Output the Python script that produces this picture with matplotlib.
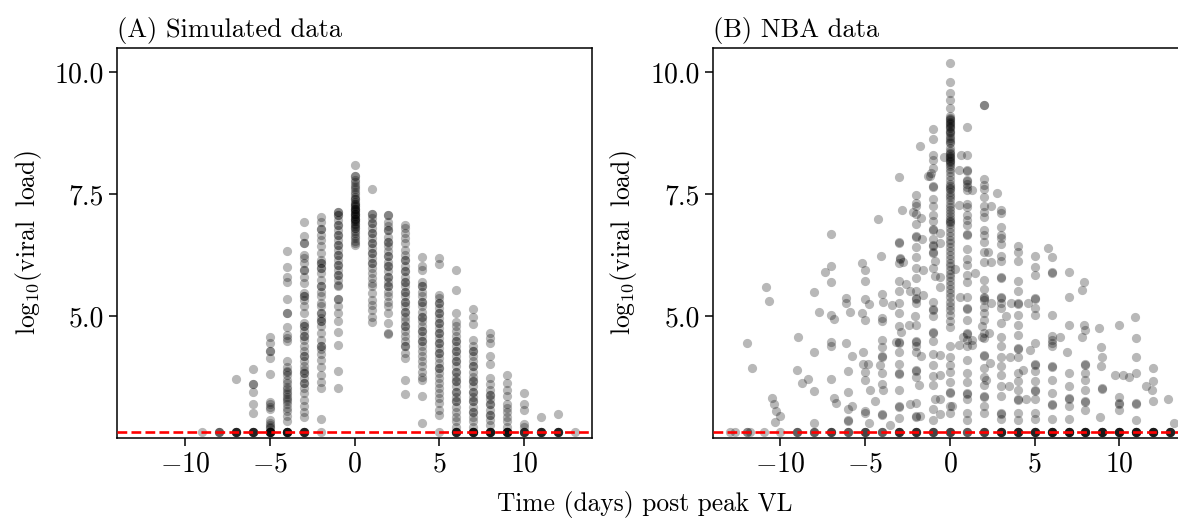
import numpy as np
import matplotlib
matplotlib.use("Agg")
import matplotlib.pyplot as plt
from matplotlib.ticker import FormatStrFormatter

plt.rcParams['font.family'] = 'serif'
plt.rcParams['font.serif'] = ['cmr10']
plt.rcParams['mathtext.fontset'] = 'cm'
plt.rcParams['axes.formatter.use_mathtext'] = True
plt.rcParams['font.size'] = 19

LOD = 2.62

# (A) simulated data: one column of values per day post peak
sim_days = [-9, -8, -7, -6, -5, -4, -3, -2, -1, 0, 1, 2, 3, 4, 5, 6, 7, 8, 9, 10, 11, 12, 13]
sim_lod_counts = [1, 3, 6, 6, 8, 8, 6, 1, 0, 0, 0, 0, 0, 0, 1, 6, 7, 7, 8, 5, 6, 6, 1]
sim_vl = [
    [],
    [],
    [3.72],
    [3.91, 3.60, 3.60, 3.45, 3.19, 3.02],
    [4.58, 4.45, 4.28, 4.28, 4.15, 3.81, 3.24, 3.19, 3.14, 3.09, 2.87, 2.80, 2.77, 2.73, 2.70],
    [6.34, 6.01, 5.81, 5.71, 5.35, 5.06, 5.06, 4.78, 4.61, 4.55, 4.48, 4.07, 3.96, 3.88,
     3.85, 3.80, 3.70, 3.62, 3.55, 3.50, 3.45, 3.40, 3.35, 3.30, 3.25, 3.20, 3.12, 3.05,
     2.95, 2.85],
    [6.94, 6.65, 6.51, 6.51, 6.26, 6.19, 6.09, 5.95, 5.95, 5.81, 5.68, 5.47, 5.41, 5.41,
     5.34, 5.20, 5.07, 4.86, 4.80, 4.80, 4.69, 4.59, 4.59, 4.52, 4.39, 4.28, 4.18, 4.18,
     4.07, 3.97, 3.90, 3.83, 3.83, 3.73, 3.63, 3.63, 3.53, 3.42, 3.28, 3.15, 3.04, 2.94],
    [7.04, 6.94, 6.79, 6.79, 6.67, 6.57, 6.43, 6.30, 6.16, 6.09, 6.09, 5.99, 5.99, 5.88,
     5.75, 5.61, 5.61, 5.50, 5.41, 5.27, 5.20, 5.07, 5.07, 4.97, 4.90, 4.90, 4.80, 4.66,
     4.52, 4.39, 4.39, 4.32, 4.22, 4.11, 3.96, 3.79, 3.65, 3.52, 2.90],
    [7.14, 7.14, 7.07, 7.07, 6.97, 6.87, 6.87, 6.77, 6.67, 6.67, 6.57, 6.46, 6.46, 6.36,
     6.26, 6.26, 6.16, 6.05, 6.05, 5.95, 5.85, 5.85, 5.74, 5.64, 5.61, 5.36, 5.36, 5.20,
     5.07, 4.90, 4.67, 4.40, 3.88, 3.52],
    [8.10, 7.88, 7.88, 7.80, 7.75, 7.70, 7.65, 7.60, 7.55, 7.50, 7.45, 7.40, 7.40, 7.35,
     7.30, 7.30, 7.25, 7.25, 7.20, 7.20, 7.20, 7.15, 7.15, 7.10, 7.10, 7.10, 7.05, 7.05,
     7.00, 7.00, 7.00, 6.95, 6.95, 6.90, 6.90, 6.85, 6.80, 6.80, 6.75, 6.70, 6.65, 6.60,
     6.55, 6.50, 6.45],
    [7.61, 7.10, 7.10, 7.01, 6.91, 6.91, 6.81, 6.70, 6.70, 6.60, 6.50, 6.50, 6.40, 6.29,
     6.29, 6.19, 6.09, 6.09, 5.99, 5.88, 5.78, 5.68, 5.61, 5.47, 5.34, 5.23, 5.13, 4.99,
     4.87],
    [7.08, 7.08, 6.94, 6.84, 6.77, 6.77, 6.63, 6.53, 6.53, 6.43, 6.33, 6.23, 6.23, 6.12,
     6.02, 6.02, 5.92, 5.81, 5.81, 5.71, 5.61, 5.61, 5.50, 5.41, 5.30, 5.20, 5.07, 4.86,
     4.66, 4.63],
    [6.87, 6.81, 6.70, 6.60, 6.50, 6.36, 6.26, 6.16, 6.16, 6.02, 5.92, 5.92, 5.81, 5.71,
     5.71, 5.61, 5.50, 5.50, 5.41, 5.30, 5.30, 5.20, 5.09, 5.09, 4.99, 4.89, 4.80, 4.80,
     4.69, 4.59, 4.49, 4.39, 4.39, 4.25, 4.15, 3.68, 3.40],
    [6.22, 6.02, 5.95, 5.71, 5.61, 5.61, 5.50, 5.41, 5.30, 5.30, 5.20, 5.09, 4.99, 4.99,
     4.89, 4.80, 4.69, 4.69, 4.59, 4.49, 4.49, 4.39, 4.28, 4.18, 4.07, 3.97, 3.86, 3.76,
     3.69, 3.36, 2.81],
    [6.19, 6.07, 5.44, 5.38, 5.27, 5.27, 5.17, 5.07, 5.07, 4.97, 4.86, 4.86, 4.76, 4.66,
     4.66, 4.56, 4.45, 4.45, 4.35, 4.25, 4.25, 4.15, 4.04, 3.94, 3.94, 3.83, 3.73, 3.63,
     3.53, 3.42, 3.32, 3.22, 3.08, 2.98],
    [5.95, 5.54, 5.07, 4.87, 4.80, 4.69, 4.59, 4.49, 4.49, 4.39, 4.28, 4.28, 4.18, 4.07,
     4.07, 3.97, 3.86, 3.86, 3.76, 3.66, 3.66, 3.56, 3.45, 3.45, 3.35, 3.25, 3.25, 3.14,
     3.04, 2.94, 2.84, 2.73],
    [5.14, 4.99, 4.83, 4.51, 4.38, 4.28, 4.28, 4.18, 4.07, 3.97, 3.97, 3.86, 3.76, 3.66,
     3.66, 3.56, 3.45, 3.45, 3.35, 3.25, 3.25, 3.14, 3.04, 3.04, 2.94, 2.84, 2.73],
    [4.66, 4.55, 4.45, 4.18, 4.01, 3.73, 3.60, 3.49, 3.39, 3.39, 3.29, 3.19, 3.19, 3.08,
     2.98, 2.98, 2.87, 2.77],
    [3.80, 3.63, 3.49, 3.36, 3.19, 3.12, 3.04, 2.94, 2.84, 2.73],
    [3.43, 3.19, 3.07, 2.78, 2.73],
    [2.94],
    [2.99],
    [],
]

# (B) NBA data: points on whole days, per day
nba_days = [-8, -7, -6, -5, -4, -3, -2, -1, 0, 1, 2, 3, 4, 5, 6, 7, 8, 9, 10, 11, 12]
nba_vl = [
    [5.50, 4.27, 3.47, 2.81],
    [6.68, 6.02, 5.70, 5.03, 4.46, 4.39, 3.72],
    [3.87, 3.44, 3.09, 2.87, 2.85],
    [5.94, 5.73, 5.35, 4.93, 3.85, 3.70, 3.05, 3.02],
    [5.45, 4.97, 4.90, 4.51, 4.37, 4.19, 4.17, 3.83, 3.61, 2.99, 2.97],
    [6.53, 6.51, 6.08, 5.73, 5.52, 5.27, 5.06, 4.80, 4.47, 4.45, 4.26, 4.01, 3.83, 3.81,
     3.49, 3.15, 3.13, 2.91],
    [7.49, 7.32, 7.26, 7.10, 6.90, 6.64, 6.62, 6.41, 6.22, 5.99, 5.79, 5.52, 5.37, 5.35,
     5.27, 4.81, 4.49, 4.47, 4.39, 4.26, 3.90, 3.88, 3.76, 3.22, 2.95, 2.93],
    [8.83, 8.63, 8.30, 8.20, 8.04, 7.67, 7.65, 7.40, 7.26, 7.08, 6.96, 6.79, 6.77, 6.58,
     6.45, 6.43, 6.31, 6.29, 5.98, 5.28, 5.15, 5.13, 5.01, 4.68, 4.66, 4.49, 4.22, 3.99,
     3.78, 3.58, 3.10, 2.87],
    [10.19, 9.80, 9.58, 9.43, 9.26, 9.10, 9.06, 9.04, 9.02, 8.98, 8.96, 8.94, 8.90, 8.88,
     8.85, 8.80, 8.78, 8.75, 8.70, 8.66, 8.62, 8.58, 8.55, 8.45, 8.38, 8.34, 8.32, 8.28,
     8.26, 8.24, 8.20, 8.18, 8.16, 8.12, 8.08, 8.02, 7.95, 7.88, 7.80, 7.72, 7.66, 7.62,
     7.60, 7.54, 7.48, 7.44, 7.38, 7.30, 7.24, 7.18, 7.12, 7.06, 7.00, 6.96, 6.94, 6.88,
     6.80, 6.72, 6.64, 6.56, 6.50, 6.42, 6.34, 6.26, 6.18, 6.10, 6.02, 5.94, 5.86, 5.80,
     5.72, 5.64, 5.56, 5.48, 5.40, 5.30, 5.20, 5.12, 5.02, 4.90, 4.78, 4.39, 4.17, 4.00,
     3.85, 3.65, 3.45, 3.43, 3.15, 3.02],
    [8.87, 8.30, 8.00, 7.97, 7.79, 7.77, 7.72, 7.65, 7.59, 7.31, 7.24, 7.07, 6.97, 6.86,
     6.69, 6.67, 6.38, 6.18, 6.05, 5.84, 5.69, 5.40, 5.17, 5.15, 4.93, 4.65, 4.63, 4.52,
     4.38, 4.11, 3.84, 3.64, 3.43, 3.41, 3.29, 3.02, 2.86],
    [9.34, 9.33, 7.81, 7.70, 7.60, 7.44, 7.26, 7.14, 7.03, 6.77, 6.66, 6.52, 6.32, 6.11,
     5.75, 5.55, 5.40, 5.38, 5.33, 5.19, 5.06, 4.93, 4.65, 4.55, 4.21, 4.19, 3.94, 3.76,
     3.59, 3.36, 3.34, 3.15, 3.01],
    [7.17, 7.11, 6.83, 6.66, 6.60, 6.48, 6.23, 6.14, 5.80, 5.78, 5.40, 5.38, 5.26, 5.17,
     4.86, 4.58, 4.38, 4.17, 3.97, 3.80, 3.56, 3.36, 3.02, 3.00, 2.88],
    [6.44, 6.32, 6.14, 5.73, 5.52, 5.26, 5.24, 5.03, 4.82, 4.62, 4.34, 4.32, 4.17, 3.84,
     3.67, 3.49, 3.29, 3.27, 3.02, 2.86],
    [6.24, 6.01, 5.84, 5.37, 5.35, 5.17, 5.03, 4.45, 4.01, 3.99, 3.87, 3.67, 3.49, 3.47,
     3.29, 3.02, 2.88],
    [5.90, 5.88, 5.03, 4.59, 4.52, 4.45, 4.38, 3.97, 3.95, 3.70, 3.43, 3.19, 3.17, 2.88],
    [5.90, 5.40, 4.82, 3.84, 3.56, 3.33, 3.31, 3.15, 2.88],
    [4.01, 3.99, 3.84, 3.70, 3.49, 3.26, 3.24, 3.08],
    [3.53, 3.51],
    [4.82, 3.35, 3.21, 3.19, 3.08],
    [4.55, 4.17, 3.83, 3.21, 3.19, 2.87],
    [3.93, 3.66, 3.25],
]

# (B) NBA data: points off whole days
nba_off_t = [-11.96, -11.67, -10.85, -10.69, -10.49, -10.37, -10.25, -10.0, -10.3,
             -8.98, -9.0, -8.7, -8.4, -7.74, -7.4, -6.85, -6.85, -6.7,
             -6.12, -6.12, -5.89, -6.12, -5.77, -5.8,
             -5.18, -4.76, -5.2, -5.1, -5.15, -4.85, -4.7, -4.8,
             -4.26, -4.05, -3.95, -4.15, -3.95, -4.4, -3.4,
             -3.02, -2.8, -2.95, -2.97, -2.75, -2.6, -2.9, -3.2, -3.55,
             -2.39, -2.36, -2.35, -2.19, -2.05,
             -1.74, -1.7, -1.65, -1.6, -1.6, -1.7, -1.8, -1.75,
             -1.27, -1.1, -1.15, -0.9, -0.85, -0.85, -0.34,
             -0.6, -0.6, -0.6, -0.6, -0.6, -0.6, -0.6, -0.6,
             0.52, 0.32, 0.57, 0.8, 0.52, 0.1, 0.66, 0.56, 1.33,
             1.5, 1.3, 1.3, 1.9, 1.9,
             2.23, 2.4, 2.45, 2.3, 2.35, 2.15, 2.8, 2.4,
             3.3, 3.55, 3.5, 3.6,
             4.59, 4.7, 4.3, 4.5,
             5.8, 6.05, 6.5, 6.9,
             7.82, 7.9, 7.9, 7.95, 7.82,
             8.8, 8.9, 8.95, 8.9, 8.85,
             9.75, 10.2, 10.6, 10.9, 11.6, 11.9,
             12.85, 13.2]
nba_off_vl = [4.44, 3.94, 5.59, 5.32, 3.33, 3.20, 3.06, 2.95, 2.83,
              4.57, 3.89, 3.62, 3.72, 5.09, 5.90, 4.94, 3.32, 3.22,
              5.37, 5.27, 5.08, 4.45, 4.19, 3.16,
              6.10, 5.24, 5.07, 4.26, 4.01, 4.01, 3.48, 2.81,
              6.99, 6.24, 5.29, 4.00, 3.49, 3.25, 5.22,
              7.85, 7.17, 6.19, 6.17, 6.12, 5.66, 4.67, 4.46, 2.76,
              4.82, 5.52, 3.20, 7.14, 5.00,
              8.50, 7.01, 6.58, 5.95, 5.44, 4.19, 3.59, 2.96,
              7.88, 7.94, 7.88, 6.14, 5.83, 3.30, 8.26,
              6.70, 6.50, 5.80, 5.60, 4.20, 3.80, 3.30, 3.00,
              7.28, 5.96, 5.40, 4.58, 4.41, 3.15, 8.30, 7.99, 7.59,
              5.88, 4.52, 4.41, 4.79, 4.58,
              6.32, 6.11, 5.26, 4.65, 4.04, 3.70, 7.52, 7.26,
              5.00, 4.17, 3.56, 5.26,
              5.26, 4.31, 3.90, 3.30,
              6.40, 6.22, 4.58, 4.27,
              5.54, 5.70, 4.82, 4.72, 4.58,
              4.75, 4.37, 4.17, 3.97, 2.94,
              3.79, 3.79, 3.75, 4.99, 3.56, 3.49,
              3.31, 2.80]

# (B) NBA data: samples below detection, stacked on the limit line
nba_lod_t = [-13.0, -12.7, -12.0, -11.8, -11.0, -10.0, -9.0, -8.0, -7.0, -6.0, -5.0, -4.0,
             -3.0, -2.0, -1.0, 0.0, 1.0, 2.0, 3.0, 4.0, 5.0, 6.0, 7.0, 8.0, 9.0, 10.0,
             11.0, 12.0, 13.0]
nba_lod_counts = [1, 1, 2, 1, 1, 1, 3, 3, 4, 3, 4, 3, 5, 5, 4, 4, 3, 4, 6, 6, 6, 7, 7,
                  7, 7, 7, 7, 7, 6]


def columns_to_xy(days, values, lod_days=None, lod_counts=None):
    xs, ys = [], []
    for d, vals in zip(days, values):
        xs += [d] * len(vals)
        ys += list(vals)
    if lod_days is not None:
        for d, n in zip(lod_days, lod_counts):
            xs += [d] * n
            ys += [LOD] * n
    return np.array(xs, dtype=float), np.array(ys, dtype=float)


sim_x, sim_y = columns_to_xy(sim_days, sim_vl, sim_days, sim_lod_counts)
nba_x, nba_y = columns_to_xy(nba_days, nba_vl, nba_lod_t, nba_lod_counts)
nba_x = np.concatenate([nba_x, nba_off_t])
nba_y = np.concatenate([nba_y, nba_off_vl])

W, H = 1178, 520
fig = plt.figure(figsize=(W / 100, H / 100), dpi=100)
ax1 = fig.add_axes([117.4 / W, 82 / H, 474.4 / W, 390 / H])
ax2 = fig.add_axes([712.7 / W, 82 / H, 474.4 / W, 390 / H])

for ax, x, y, title in [(ax1, sim_x, sim_y, '(A) Simulated data'),
                        (ax2, nba_x, nba_y, '(B) NBA data')]:
    ax.scatter(x, y, s=44, color='black', alpha=0.28, linewidths=0, zorder=2)
    ax.axhline(LOD, color='red', ls='--', lw=1.9, zorder=3)
    ax.set_xlim(-14, 14)
    ax.set_ylim(2.5, 10.5)
    ax.set_xticks([-10, -5, 0, 5, 10])
    ax.set_yticks([5.0, 7.5, 10.0])
    ax.yaxis.set_major_formatter(FormatStrFormatter('%.1f'))
    ax.tick_params(direction='out', length=6, width=1.1, labelsize=20)
    for sp in ax.spines.values():
        sp.set_linewidth(1.1)
    ax.set_ylabel(r'$\mathrm{log}_{10}(\mathrm{viral}\ \;\mathrm{load})$', fontsize=18.5,
                  labelpad=8)
    ax.set_title(title, loc='left', fontsize=19, pad=8)

fig.text(645 / W, 1 - 505 / H, 'Time (days) post peak VL', ha='center', va='center',
         fontsize=18.3)

fig.savefig('out.png', dpi=100)
